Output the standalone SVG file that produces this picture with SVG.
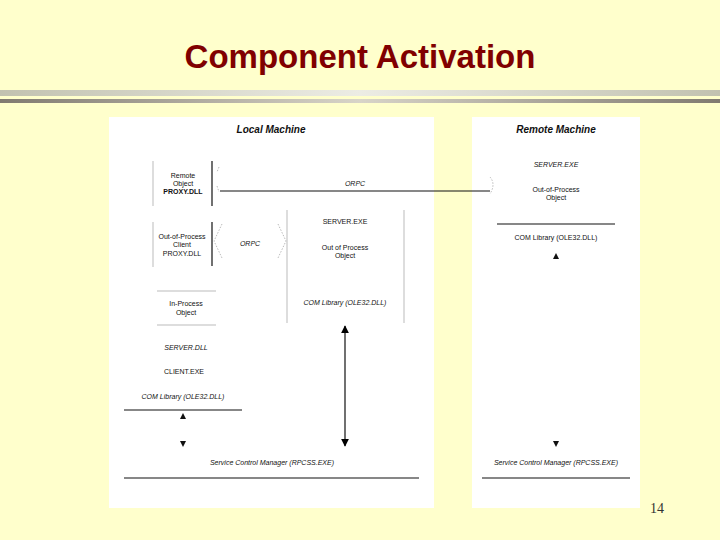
<svg xmlns="http://www.w3.org/2000/svg" width="720" height="540" viewBox="0 0 720 540">
<defs>
<linearGradient id="bar1" x1="0" x2="1" y1="0" y2="0">
<stop offset="0" stop-color="#c2c2b0"/><stop offset="0.5" stop-color="#ecece4"/><stop offset="1" stop-color="#c2c2b0"/>
</linearGradient>
<linearGradient id="bar2" x1="0" x2="1" y1="0" y2="0">
<stop offset="0" stop-color="#807a70"/><stop offset="0.5" stop-color="#d8d4c8"/><stop offset="1" stop-color="#807a70"/>
</linearGradient>
<marker id="tri" viewBox="0 0 10 10" refX="9" refY="5" markerWidth="8" markerHeight="8" orient="auto-start-reverse" markerUnits="userSpaceOnUse">
<path d="M0,0 L10,5 L0,10 z" fill="#000"/>
</marker>
<style>
.t{font-family:"Liberation Sans",Arial,sans-serif;font-size:7px;fill:#111;text-anchor:middle}
.i{font-style:italic}
.b{font-weight:bold}
.h{font-family:"Liberation Sans",Arial,sans-serif;font-size:10px;font-style:italic;font-weight:bold;fill:#111;text-anchor:middle}
.dk{stroke:#111;stroke-width:1.2;fill:none}
.lt{stroke:#bbb;stroke-width:1;fill:none}
.dot{stroke:#aaa;stroke-width:0.8;stroke-dasharray:1.5 1.5;fill:none}
.tri{fill:#111}
</style>
</defs>
<rect width="720" height="540" fill="#FFFFCC"/>
<text x="360" y="68" font-family="'Liberation Sans',Arial,sans-serif" font-size="33" font-weight="bold" fill="#800000" text-anchor="middle">Component Activation</text>
<rect x="0" y="90" width="720" height="6" fill="url(#bar1)"/>
<rect x="0" y="99" width="720" height="4" fill="url(#bar2)"/>
<rect x="109" y="117" width="325" height="391" fill="#fff"/>
<rect x="472" y="117" width="168" height="391" fill="#fff"/>
<text x="271" y="133" class="h">Local Machine</text>
<text x="556" y="133" class="h">Remote Machine</text>

<g id="remote-proxy">
<line x1="153" y1="161" x2="153" y2="206" class="lt"/>
<line x1="212" y1="161" x2="212" y2="206" class="dk"/>
<text x="183" y="178" class="t">Remote</text>
<text x="183" y="186" class="t">Object</text>
<text x="183" y="194" class="t b">PROXY.DLL</text>
</g>

<g id="client-proxy">
<line x1="153" y1="222" x2="153" y2="267" class="lt"/>
<line x1="212" y1="222" x2="212" y2="266" class="dk"/>
<text x="182" y="239" class="t">Out-of-Process</text>
<text x="182" y="247" class="t">Client</text>
<text x="182" y="256" class="t">PROXY.DLL</text>
</g>

<g id="server-exe-local">
<line x1="287" y1="210" x2="287" y2="323" class="lt"/>
<line x1="404" y1="210" x2="404" y2="323" class="lt"/>
<text x="345" y="224" class="t">SERVER.EXE</text>
<text x="345" y="250" class="t">Out of Process</text>
<text x="345" y="258" class="t">Object</text>
<text x="345" y="305" class="t i">COM Library (OLE32.DLL)</text>
</g>

<g id="inproc">
<line x1="157" y1="291" x2="216" y2="291" class="lt"/>
<line x1="157" y1="325" x2="216" y2="325" class="lt"/>
<text x="186" y="306" class="t">In-Process</text>
<text x="186" y="315" class="t">Object</text>
</g>

<g id="client-exe">
<text x="186" y="350" class="t i">SERVER.DLL</text>
<text x="184" y="374" class="t">CLIENT.EXE</text>
<text x="183" y="399" class="t i">COM Library (OLE32.DLL)</text>
<line x1="124" y1="410" x2="242" y2="410" class="dk"/>
</g>

<g id="scm-local">
<text x="272" y="465" class="t i">Service Control Manager (RPCSS.EXE)</text>
<line x1="124" y1="478" x2="419" y2="478" class="dk"/>
</g>

<g id="server-exe-remote">
<text x="556" y="167" class="t i">SERVER.EXE</text>
<text x="556" y="192" class="t">Out-of-Process</text>
<text x="556" y="200" class="t">Object</text>
<line x1="497" y1="224" x2="615" y2="224" class="dk"/>
<text x="556" y="240" class="t">COM Library (OLE32.DLL)</text>
</g>

<g id="scm-remote">
<text x="556" y="465" class="t i">Service Control Manager (RPCSS.EXE)</text>
<line x1="482" y1="478" x2="630" y2="478" class="dk"/>
</g>

<g id="connectors">
<line x1="220" y1="191" x2="490" y2="191" class="dk"/>
<text x="355" y="186" class="t i">ORPC</text>
<path d="M219,167 L217,172" class="dot"/>
<path d="M217,186 L219,192" class="dot"/>
<path d="M490,177 Q496,184 490,194" class="dot"/>
<path d="M222,224 L214,241 L222,258" class="dot"/>
<text x="250" y="246" class="t i">ORPC</text>
<path d="M278,224 L286,241 L278,258" class="dot"/>
<line x1="345" y1="326" x2="345" y2="446" stroke="#111" stroke-width="1.2" marker-start="url(#tri)" marker-end="url(#tri)"/>
<path d="M180,419 L183,413 L186,419 z" class="tri"/>
<path d="M180,441 L186,441 L183,447 z" class="tri"/>
<path d="M553,259 L556,253 L559,259 z" class="tri"/>
<path d="M553,441 L559,441 L556,447 z" class="tri"/>
</g>
<text x="657" y="513" font-family="'Liberation Serif',serif" font-size="14" fill="#333" text-anchor="middle">14</text>
</svg>
